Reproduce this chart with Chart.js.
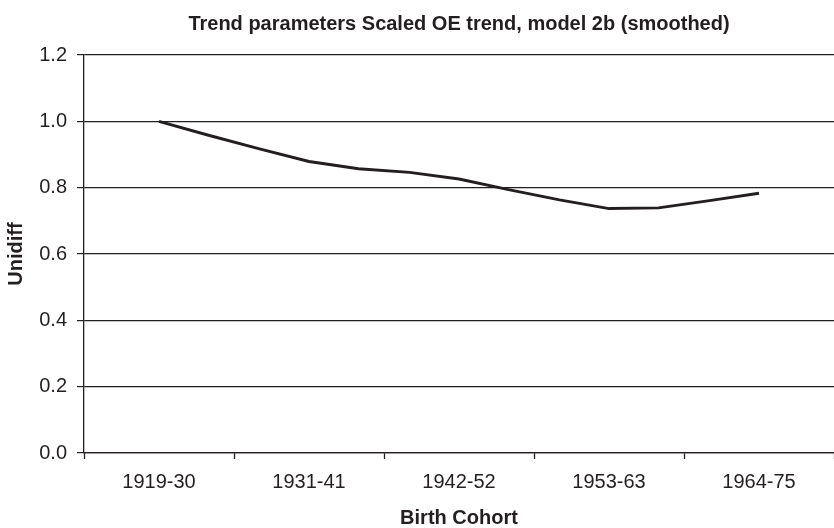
<!DOCTYPE html>
<html>
<head>
<meta charset="utf-8">
<script src="https://cdn.jsdelivr.net/npm/chart.js@4/dist/chart.umd.min.js"></script>
<style>
  html, body { margin: 0; padding: 0; background: #fff; }
  #wrap { width: 834px; height: 528px; }
</style>
</head>
<body>
<div id="wrap"><canvas id="myChart" width="834" height="528"></canvas></div>
<script>
// birth cohorts shown on the x axis
const cohorts = ['1919-30', '1931-41', '1942-52', '1953-63', '1964-75'];
// smoothed series: position along the cohort axis (0 = left edge, 0.5 = first cohort centre)
const cohortPos = [0.5, 0.83, 1.17, 1.5, 1.83, 2.17, 2.5, 2.83, 3.17, 3.5, 3.83, 4.17, 4.5];
const unidiff = [1.0, 0.958, 0.917, 0.879, 0.857, 0.846, 0.826, 0.794, 0.763, 0.737, 0.739, 0.761, 0.783];
const yTicks = [0.0, 0.2, 0.4, 0.6, 0.8, 1.0, 1.2];

const ink = '#231f20';
const fontFam = "'Liberation Sans', Arial, Helvetica, sans-serif";

let points = [];
for (let i = 0; i < cohortPos.length; i++) {
    points.push({ x: cohortPos[i], y: unidiff[i] });
}

const data = {
    datasets: [{
        label: 'Unidiff',
        data: points,
        borderColor: ink,
        borderWidth: 2.9,
        pointRadius: 0,
        tension: 0,
        fill: false
    }]
};

const config = {
    type: 'line',
    data,
    options: {
        responsive: false,
        animation: false,
        layout: { padding: 0 },
        plugins: {
            legend: { display: false },
            tooltip: { enabled: false },
            title: {
                display: true,
                text: 'Trend parameters Scaled OE trend, model 2b (smoothed)',
                color: ink,
                fullSize: false,
                font: { family: fontFam, size: 20, weight: 'bold', lineHeight: 1.2 },
                padding: { top: 12, bottom: 19 }
            }
        },
        scales: {
            x: {
                type: 'linear',
                min: 0,
                max: cohorts.length,
                afterBuildTicks: (scale) => {
                    let t = [];
                    for (let i = 0; i <= cohorts.length * 2; i++) t.push({ value: i / 2 });
                    scale.ticks = t;
                },
                afterFit: (scale) => {
                    scale.height = 75;
                    scale.paddingRight = 0;
                    scale.paddingLeft = 0;
                },
                border: { display: true, color: ink, width: 1.3 },
                grid: {
                    drawOnChartArea: false,
                    drawTicks: true,
                    tickLength: 6,
                    tickWidth: 1.3,
                    tickColor: (ctx) => (ctx.tick && ctx.tick.value % 1 === 0) ? ink : 'rgba(0,0,0,0)'
                },
                ticks: {
                    autoSkip: false,
                    maxRotation: 0,
                    color: ink,
                    padding: 11,
                    font: { family: fontFam, size: 20 },
                    callback: (v) => (v % 1 === 0.5) ? cohorts[Math.floor(v)] : ''
                },
                title: {
                    display: true,
                    text: 'Birth Cohort',
                    color: ink,
                    font: { family: fontFam, size: 20, weight: 'bold', lineHeight: 1.0 },
                    padding: { top: 8, bottom: 0 }
                }
            },
            y: {
                min: 0,
                max: 1.2,
                afterBuildTicks: (scale) => {
                    scale.ticks = yTicks.map((v) => ({ value: v }));
                },
                afterFit: (scale) => { scale.width = 84; },
                border: { display: true, color: ink, width: 1.3 },
                grid: {
                    color: ink,
                    lineWidth: 1.2,
                    drawTicks: true,
                    tickLength: 7
                },
                ticks: {
                    color: ink,
                    padding: 10,
                    font: { family: fontFam, size: 20 },
                    callback: (v) => v.toFixed(1)
                },
                title: {
                    display: true,
                    text: 'Unidiff',
                    color: ink,
                    font: { family: fontFam, size: 20, weight: 'bold', lineHeight: 1.2 },
                    padding: { top: 4, bottom: 4 }
                }
            }
        }
    }
};

const myChart = new Chart(document.getElementById('myChart'), config);
</script>
</body>
</html>
